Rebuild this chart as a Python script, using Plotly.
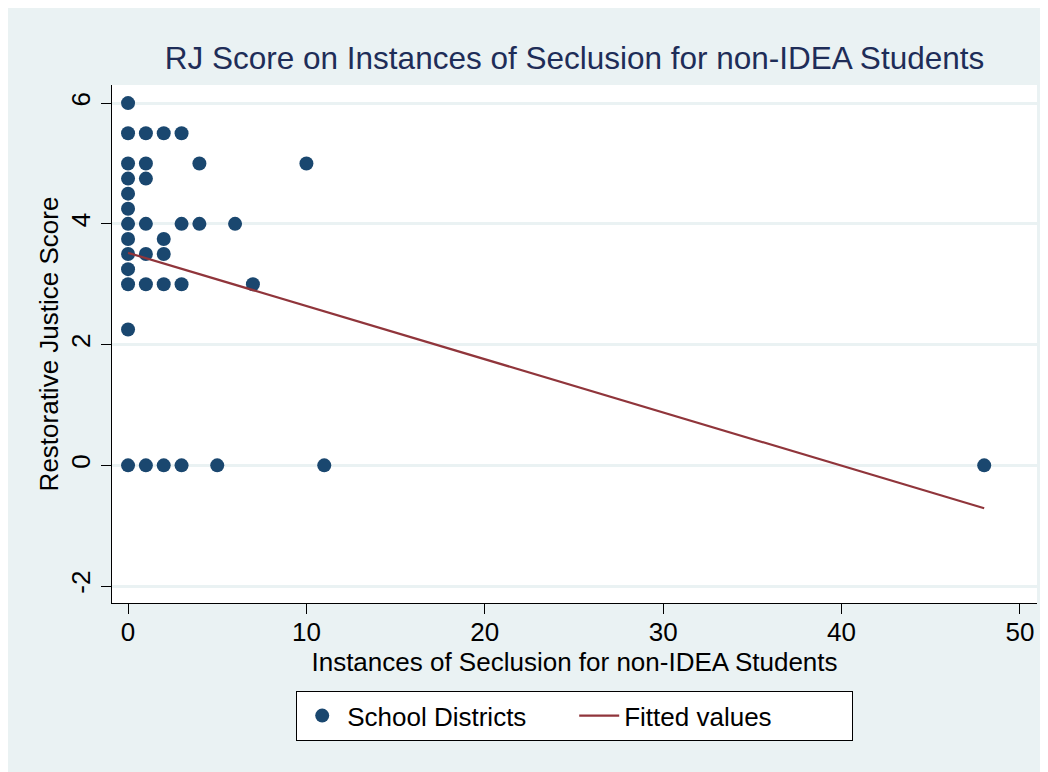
import plotly.graph_objects as go

# Scatter data: (instances of seclusion, RJ score)
x_vals = [0,
          0, 1, 2, 3,
          0, 1, 4, 10,
          0, 1,
          0,
          0,
          0, 1, 3, 4, 6,
          0, 2,
          0, 1, 2,
          0,
          0, 1, 2, 3, 7,
          0,
          0, 1, 2, 3, 5, 11, 48]
y_vals = [6,
          5.5, 5.5, 5.5, 5.5,
          5, 5, 5, 5,
          4.75, 4.75,
          4.5,
          4.25,
          4, 4, 4, 4, 4,
          3.75, 3.75,
          3.5, 3.5, 3.5,
          3.25,
          3, 3, 3, 3, 3,
          2.25,
          0, 0, 0, 0, 0, 0, 0]

# Fitted values line
fit_x = [0, 48]
fit_y = [3.52, -0.71]

x_ticks = [0, 10, 20, 30, 40, 50]
y_ticks = [-2, 0, 2, 4, 6]
y_tick_labels = ["-2", "0", "2", "4", "6"]

NAVY = "#1A476F"
MAROON = "#90353B"
BG = "#EAF2F3"
FONT = "Liberation Sans, Arial, Helvetica, sans-serif"

fig = go.Figure()
fig.add_trace(go.Scatter(
    x=x_vals, y=y_vals, mode="markers", name="School Districts",
    marker=dict(color=NAVY, size=14, line=dict(width=0)),
))
fig.add_trace(go.Scatter(
    x=fit_x, y=fit_y, mode="lines", name="Fitted values",
    line=dict(color=MAROON, width=2.2),
))

W, H = 1048, 772
L, R, T, B = 104, 19, 77, 177
pw, ph = W - L - R, H - T - B

fig.update_layout(
    width=W, height=H,
    margin=dict(l=L, r=R, t=T, b=B),
    paper_bgcolor=BG,
    plot_bgcolor="white",
    font=dict(family=FONT, color="black", size=26),
    title=dict(text="RJ Score on Instances of Seclusion for non-IDEA Students",
               x=0.5, xref="paper", xanchor="center",
               y=1 - 50 / H, yanchor="middle",
               font=dict(size=31.5, color="#1E2D58", family=FONT)),
    showlegend=True,
    legend=dict(
        orientation="h", x=0.5, xanchor="center",
        y=(595 - 683) / ph, yanchor="top",
        bgcolor="white", bordercolor="black", borderwidth=1.2,
        font=dict(size=26, family=FONT, color="black"),
        entrywidth=222, itemwidth=40,
    ),
    xaxis=dict(
        range=[-0.9, 50.96], tickvals=x_ticks, ticks="outside", ticklen=10,
        tickcolor="black", tickwidth=1.3, showgrid=False, zeroline=False,
        showline=True, linecolor="black", linewidth=1.3,
        ticklabelstandoff=-4,
        title=dict(text="Instances of Seclusion for non-IDEA Students",
                   font=dict(size=26), standoff=2),
        tickfont=dict(size=26),
    ),
    yaxis=dict(
        range=[-2.28, 6.3], tickvals=y_ticks, ticktext=y_tick_labels,
        ticks="outside", ticklen=10,
        tickcolor="black", tickwidth=1.3, showgrid=True, gridcolor=BG,
        gridwidth=2.5, zeroline=False,
        showline=True, linecolor="black", linewidth=1.3,
        tickangle=-90, ticklabelstandoff=0,
        title=dict(text="Restorative Justice Score", font=dict(size=26), standoff=0),
        tickfont=dict(size=26),
    ),
)

fig.write_html("out.html", post_script="document.body.style.overflow='hidden';")
